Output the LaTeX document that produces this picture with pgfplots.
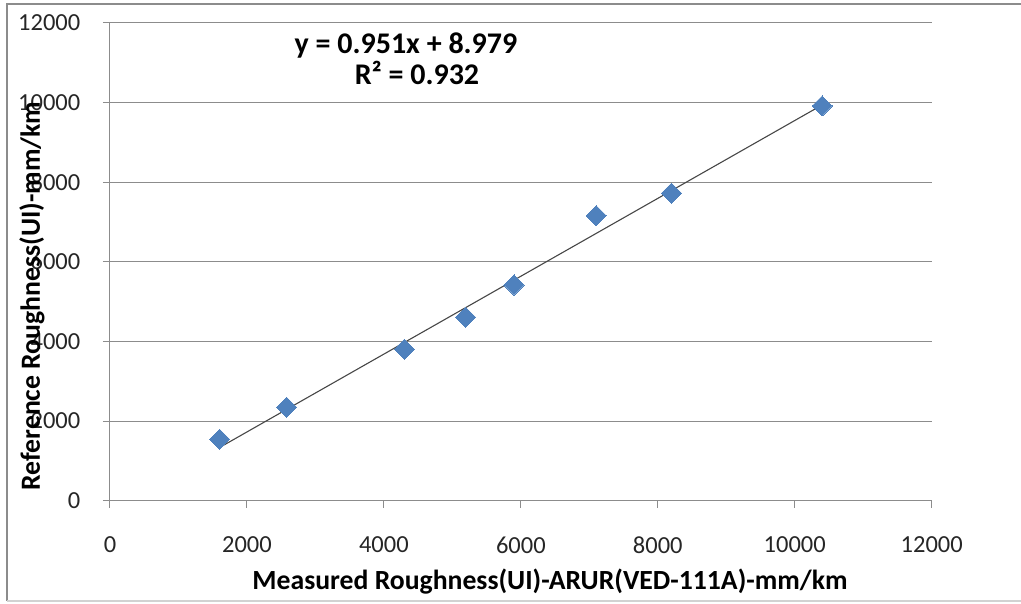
\documentclass[border=0pt]{standalone}
\usepackage{pgfplots}
\pgfplotsset{compat=1.18}
\usepackage{fontspec}
\setmainfont{Carlito}
\definecolor{mblue}{HTML}{4F81BD}
\definecolor{gridc}{HTML}{8C8C8C}
\begin{document}
\begin{tikzpicture}[x=1pt,y=1pt]
\useasboundingbox (-110,-102.3) rectangle (911,500.7);
\draw[line width=2pt, color=gray!90] (911,496.7) -- (-103,496.7) -- (-103,-100.3);
\draw[line width=1.5pt, color=gray!35] (-103,-100.3) -- (911,-100.3);
\begin{axis}[
  at={(0pt,0pt)}, anchor=south west, scale only axis,
  width=821.7pt, height=478pt,
  xmin=0, xmax=12000, ymin=0, ymax=12000,
  xtick={0,2000,...,12000}, ytick={0,2000,...,12000},
  axis lines=left,
  axis line style={-, draw=gridc, line width=1pt},
  tick align=outside, major tick length=7pt,
  tick style={draw=gridc, line width=1pt},
  ymajorgrids, grid style={draw=gridc, line width=1pt},
  /pgf/number format/assume math mode=true,
  scaled ticks=false,
  xticklabel={\pgfmathprintnumber[fixed,precision=0,1000 sep={}]{\tick}},
  yticklabel={\pgfmathprintnumber[fixed,precision=0,1000 sep={}]{\tick}},
  ticklabel style={font=\fontsize{24.5}{29}\selectfont, text=black!85},
  yticklabel style={anchor=east, inner sep=0pt, xshift=-22.5pt},
  xticklabel style={anchor=north, inner sep=0pt, yshift=-29pt},
  clip=false,
]
\addplot[only marks, color=mblue, mark=square*, mark size=7.1pt,
  mark options={rotate=45, fill=mblue, draw=mblue, line width=0pt}]
  coordinates {(1600,1541) (2580,2345) (4300,3801) (5194,4605) (5900,5415) (7100,7156) (8200,7718) (10400,9910)};
\addplot[draw=black!72, line width=1.1pt] coordinates {(1600,1335) (10400,9935)};
\end{axis}
\node[anchor=base, font=\fontsize{30}{36}\selectfont\bfseries] at (296,447.4) {y = 0.951x + 8.979};
\node[anchor=base, font=\fontsize{30}{36}\selectfont\bfseries] at (307,415.7) {R² = 0.932};
\node[font=\fontsize{27.7}{33}\selectfont\bfseries] at (440,-81.3) {Measured Roughness(UI)-ARUR(VED-111A)-mm/km};
\node[rotate=90, font=\fontsize{27.7}{33}\selectfont\bfseries] at (-78,204.7) {Reference Roughness(UI)-mm/km};
\end{tikzpicture}
\end{document}
